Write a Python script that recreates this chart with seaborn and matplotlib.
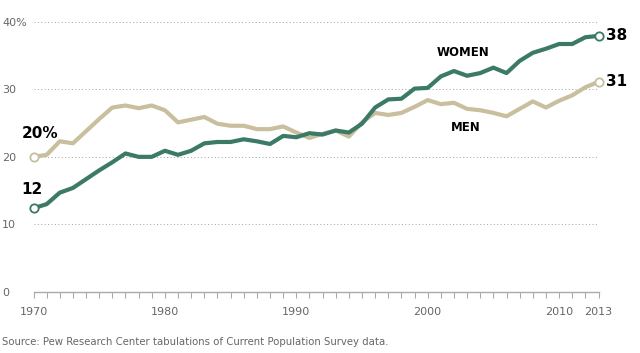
import matplotlib
matplotlib.use("Agg")
import matplotlib.pyplot as plt
import seaborn as sns
import pandas as pd
import numpy as np

years = list(range(1970, 2014))
women = [12.4, 13.0, 14.7, 15.4, 16.7, 18.0, 19.2, 20.5, 20.0, 20.0,
         20.9, 20.3, 20.9, 22.0, 22.2, 22.2, 22.6, 22.3, 21.9, 23.1,
         22.9, 23.5, 23.3, 23.9, 23.6, 24.9, 27.3, 28.5, 28.6, 30.1,
         30.2, 31.9, 32.7, 32.0, 32.4, 33.2, 32.4, 34.2, 35.4, 36.0,
         36.7, 36.7, 37.7, 37.9]
men = [20.0, 20.3, 22.3, 22.0, 23.8, 25.6, 27.3, 27.6, 27.2, 27.6,
       26.9, 25.1, 25.5, 25.9, 24.9, 24.6, 24.6, 24.1, 24.1, 24.5,
       23.6, 22.8, 23.4, 23.9, 23.0, 25.1, 26.5, 26.2, 26.5, 27.4,
       28.4, 27.8, 28.0, 27.1, 26.9, 26.5, 26.0, 27.1, 28.2, 27.3,
       28.3, 29.1, 30.3, 31.1]
series_names = ["MEN", "WOMEN"]
ytick_vals = [0, 10, 20, 30, 40]
ytick_labels = ["0", "10", "20", "30", "40%"]
xtick_vals = [1970, 1980, 1990, 2000, 2010, 2013]
source = "Source: Pew Research Center tabulations of Current Population Survey data."

colors = {"WOMEN": "#3b7a66", "MEN": "#c9bf9f"}

df = pd.DataFrame({
    "year": years * 2,
    "value": men + women,
    "sex": ["MEN"] * len(years) + ["WOMEN"] * len(years),
})

sns.set_style("white")
plt.rcParams["font.family"] = ["DejaVu Sans"]

fig = plt.figure(figsize=(6.4, 3.53), dpi=100)
ax = fig.add_axes([33.5 / 640, 61 / 353, 565 / 640, 270.3 / 353])

sns.lineplot(data=df, x="year", y="value", hue="sex", palette=colors,
             hue_order=series_names, linewidth=3, ax=ax, legend=False,
             zorder=3)

# endpoint open circles
for name, vals in (("MEN", men), ("WOMEN", women)):
    ax.plot([years[0], years[-1]], [vals[0], vals[-1]], linestyle="none",
            marker="o", markersize=6, markerfacecolor="white",
            markeredgecolor=colors[name], markeredgewidth=1.3,
            clip_on=False, zorder=4)

ax.set_xlim(1970, 2013)
ax.set_ylim(0, 40)

# gridlines
for v in ytick_vals[1:]:
    ax.axhline(v, color="#a0a0a0", linestyle=(0, (1, 2.5)), linewidth=0.7,
               zorder=1)

for s in ["top", "right", "left"]:
    ax.spines[s].set_visible(False)
ax.spines["bottom"].set_color("#aaaaaa")
ax.spines["bottom"].set_linewidth(1)

ax.set_yticks(ytick_vals)
ax.set_yticklabels(ytick_labels)
ax.tick_params(axis="y", length=0, pad=22.7, labelsize=8,
               labelcolor="#666666")
for lab in ax.get_yticklabels():
    lab.set_horizontalalignment("left")

ax.set_xticks(xtick_vals)
ax.set_xticklabels([str(x) for x in xtick_vals])
ax.set_xticks(years, minor=True)
ax.tick_params(axis="x", which="both", direction="out", length=4,
               width=0.8, color="#aaaaaa", bottom=True)
ax.tick_params(axis="x", which="major", labelsize=8, labelcolor="#666666",
               pad=6.5)
ax.set_xlabel("")
ax.set_ylabel("")

# value labels
ax.text(years[0] - 0.9, men[0] + 2.3, f"{men[0]:.0f}%", fontsize=11,
        fontweight="bold", ha="left", va="bottom", color="black")
ax.text(years[0] - 0.9, women[0] + 1.7, f"{women[0]:.0f}", fontsize=11,
        fontweight="bold", ha="left", va="bottom", color="black")
ax.text(years[-1] + 0.6, women[-1], f"{women[-1]:.0f}", fontsize=11,
        fontweight="bold", ha="left", va="center", color="black")
ax.text(years[-1] + 0.6, men[-1], f"{men[-1]:.0f}", fontsize=11,
        fontweight="bold", ha="left", va="center", color="black")

ax.text(2002.7, 35.5, "WOMEN", fontsize=8.5, fontweight="bold", ha="center",
        va="center", color="black")
ax.text(2002.9, 24.4, "MEN", fontsize=8.5, fontweight="bold", ha="center",
        va="center", color="black")

fig.text(2 / 640, 1 - 342 / 353, source, fontsize=7.3, color="#666666",
         ha="left", va="center")

fig.savefig("out.png", dpi=100)
